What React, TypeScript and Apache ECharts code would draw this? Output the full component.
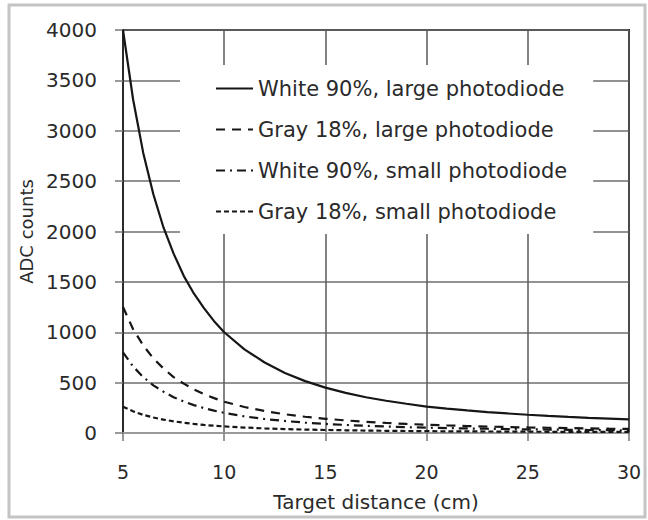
import React, { useEffect, useRef } from "react";
import * as echarts from "echarts";

const distances = [5, 5.5, 6, 6.5, 7, 7.5, 8, 8.5, 9, 9.5, 10, 11, 12, 13, 14, 15, 16, 17, 18, 19, 20, 21, 22, 23, 24, 25, 26, 27, 28, 29, 30];
const whiteLarge = [4000, 3310, 2780, 2370, 2040, 1780, 1560, 1385, 1240, 1110, 1000, 830, 700, 595, 515, 450, 398, 355, 320, 290, 262, 242, 224, 208, 194, 181, 170, 160, 151, 143, 135];
const grayLarge = [1250, 1030, 870, 740, 640, 555, 490, 433, 385, 346, 310, 258, 218, 186, 161, 141, 125, 111, 100, 90, 82, 75, 69, 64, 59, 55, 52, 49, 46, 43, 41];
const whiteSmall = [800, 660, 555, 473, 410, 355, 312, 277, 247, 222, 200, 165, 139, 119, 103, 90, 80, 71, 64, 58, 53, 49, 45, 42, 39, 36, 34, 32, 30, 28, 27];
const graySmall = [260, 215, 180, 154, 133, 116, 102, 90, 80, 72, 65, 54, 46, 39, 34, 30, 27, 24, 22, 20, 18, 17, 16, 15, 14, 13, 12, 12, 11, 11, 10];

const seriesNames = [
  "White 90%, large photodiode",
  "Gray 18%, large photodiode",
  "White 90%, small photodiode",
  "Gray 18%, small photodiode",
];

const FONT = "DejaVu Sans";
const TEXT = "#2a2a2a";

export default function App() {
  const ref = useRef<HTMLDivElement>(null);
  useEffect(() => {
    if (!ref.current) return;
    const chart = echarts.init(ref.current, undefined, { renderer: "svg" });
    const pairs = (vals: number[]) => distances.map((d, i) => [d, vals[i]]);
    const dashes: (string | number[])[] = ["solid", [9, 7], [9, 5, 2, 5], [5, 3]];
    const allVals = [whiteLarge, grayLarge, whiteSmall, graySmall];
    chart.setOption({
      animation: false,
      backgroundColor: "#ffffff",
      textStyle: { fontFamily: FONT },
      graphic: [
        {
          type: "rect",
          shape: { x: 9, y: 5, width: 636, height: 512 },
          style: { fill: "none", stroke: "#c4c4c4", lineWidth: 3 },
          z: 0,
        },
      ],
      grid: {
        left: 123,
        right: 19,
        top: 30,
        bottom: 87,
        show: true,
        borderColor: "#1e1e1e",
        borderWidth: 2,
        backgroundColor: "transparent",
        outerBoundsMode: "none",
      },
      legend: {
        data: seriesNames,
        orient: "vertical",
        left: 180,
        top: 65,
        padding: [13, 26, 12, 35],
        backgroundColor: "#ffffff",
        itemWidth: 37,
        itemHeight: 14,
        itemGap: 20,
        itemStyle: { color: "transparent", borderColor: "transparent", borderWidth: 0 },
        textStyle: { fontFamily: FONT, fontSize: 21, color: TEXT },
        z: 10,
      },
      xAxis: {
        type: "value",
        min: 5,
        max: 30,
        interval: 5,
        name: "Target distance (cm)",
        nameLocation: "middle",
        nameGap: 59,
        nameTextStyle: { fontFamily: FONT, fontSize: 20, color: TEXT },
        axisLine: { show: true, lineStyle: { color: "#9a9a9a", width: 2 } },
        axisTick: { show: true, length: 8, lineStyle: { color: "#777", width: 1.5 } },
        axisLabel: { margin: 29, fontFamily: FONT, fontSize: 19, color: TEXT },
        splitLine: { show: true, lineStyle: { color: "#5a5a5a", width: 1.5 } },
      },
      yAxis: {
        type: "value",
        min: 0,
        max: 4000,
        interval: 500,
        name: "ADC counts",
        nameLocation: "middle",
        nameGap: 70,
        nameTextStyle: { fontFamily: FONT, fontSize: 18, color: TEXT },
        axisLine: { show: true, lineStyle: { color: "#2a2a2a", width: 2 } },
        axisTick: { show: true, length: 8, lineStyle: { color: "#777", width: 1.5 } },
        axisLabel: {
          margin: 26,
          fontFamily: FONT,
          fontSize: 20,
          color: TEXT,
          formatter: (v: number) => String(v),
        },
        splitLine: { show: true, lineStyle: { color: "#6e6e6e", width: 1.5 } },
      },
      series: seriesNames.map((name, i) => ({
        name,
        type: "line",
        data: pairs(allVals[i]),
        showSymbol: false,
        symbol: "none",
        smooth: false,
        lineStyle: { color: "#161616", width: 2.2, type: dashes[i] },
        itemStyle: { color: "#161616" },
        z: 3,
      })),
    });
    return () => chart.dispose();
  }, []);
  return (
    <div
      ref={ref}
      style={{ position: "fixed", left: 0, top: 0, width: 648, height: 520 }}
    />
  );
}
